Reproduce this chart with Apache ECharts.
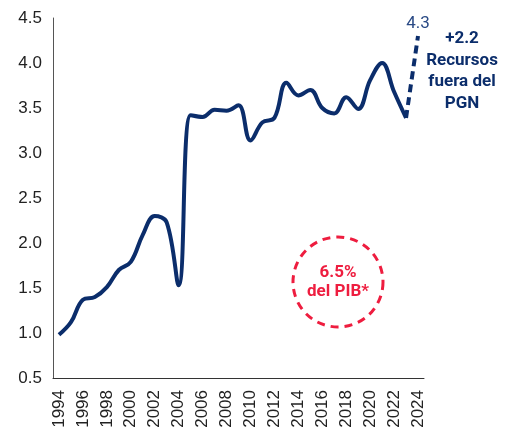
<!DOCTYPE html>
<html>
<head>
<meta charset="utf-8">
<script src="https://cdn.jsdelivr.net/npm/echarts@6/dist/echarts.min.js"></script>
<style>
  html, body { margin: 0; padding: 0; background: #fff; }
  #chart { width: 510px; height: 431px; }
</style>
</head>
<body>
<div id="chart"></div>
<script>
var years = ['1994','1995','1996','1997','1998','1999','2000','2001','2002','2003',
  '2004','2005','2006','2007','2008','2009','2010','2011','2012','2013',
  '2014','2015','2016','2017','2018','2019','2020','2021','2022','2023','2024'];
var gasto = [0.98, 1.12, 1.37, 1.40, 1.51, 1.70, 1.79, 2.09, 2.30, 2.23,
  1.53, 3.42, 3.40, 3.48, 3.47, 3.53, 3.14, 3.34, 3.39, 3.78,
  3.64, 3.70, 3.50, 3.44, 3.62, 3.49, 3.81, 4.00, 3.68, 3.39, null];
var proyeccion = [3.39, 4.3];   // 2023 -> 2024
var proyeccionDesde = 29;
var yTicks = [0.5, 1.0, 1.5, 2.0, 2.5, 3.0, 3.5, 4.0, 4.5];

(function () {

  var NAVY = '#0b2d6b';
  var RED = '#ee1d3f';

  function _dashedData(){
    var out = years.map(function(){ return null; });
    proyeccion.forEach(function(v, i){
      out[proyeccionDesde + i] = v;
    });
    return out;
  }

  function _paintChart(){
    var chart = echarts.init(document.getElementById('chart'));
    var last = years.length - 1;
    var opt = {
      animation: false,
      grid: {left: 53, top: 18, right: 86, bottom: 53},
      xAxis: {
        type: 'category',
        data: years,
        boundaryGap: true,
        axisLine: {lineStyle: {color: '#333', width: 1}},
        axisTick: {show: false},
        axisLabel: {
          rotate: 90, interval: 1, margin: 12,
          color: '#222', fontSize: 17, fontFamily: 'Liberation Sans'
        }
      },
      yAxis: {
        type: 'value',
        min: yTicks[0],
        max: yTicks[yTicks.length - 1],
        interval: 0.5,
        axisLine: {show: true, lineStyle: {color: '#555', width: 1}},
        axisTick: {show: false},
        splitLine: {show: false},
        axisLabel: {
          margin: 11, color: '#222', fontSize: 17, fontFamily: 'Liberation Sans',
          formatter: function(v){ return v.toFixed(1); }
        }
      },
      series: [{
        type: 'line',
        data: gasto,
        smooth: 0.4,
        symbol: 'none',
        lineStyle: {color: NAVY, width: 4}
      },{
        type: 'line',
        data: _dashedData(),
        smooth: true,
        symbol: 'circle',
        symbolSize: 1,
        showSymbol: true,
        itemStyle: {color: 'rgba(0,0,0,0)'},
        lineStyle: {color: NAVY, width: 4, type: [8, 5]},
        label: {
          show: true, position: 'top', distance: 3,
          color: '#2a4a85', fontSize: 17, fontFamily: 'Roboto',
          formatter: function(p){ return p.dataIndex === last ? String(p.value) : ''; }
        }
      }],
      graphic: [{
        type: 'text',
        x: 462, y: 28,
        style: {
          text: '+2.2\nRecursos\nfuera del\nPGN',
          fill: NAVY, font: 'bold 17px Roboto', lineHeight: 21.5,
          align: 'center'
        }
      },{
        type: 'circle',
        shape: {cx: 338, cy: 282, r: 45},
        style: {fill: 'none', stroke: RED, lineWidth: 3, lineDash: [8, 6]}
      },{
        type: 'text',
        x: 338, y: 263,
        style: {
          text: '6.5%\ndel PIB*',
          fill: RED, font: 'bold 17px Roboto', lineHeight: 19,
          align: 'center'
        }
      }]
    };
    chart.setOption(opt);
  }

  _paintChart();
})();
</script>
</body>
</html>
